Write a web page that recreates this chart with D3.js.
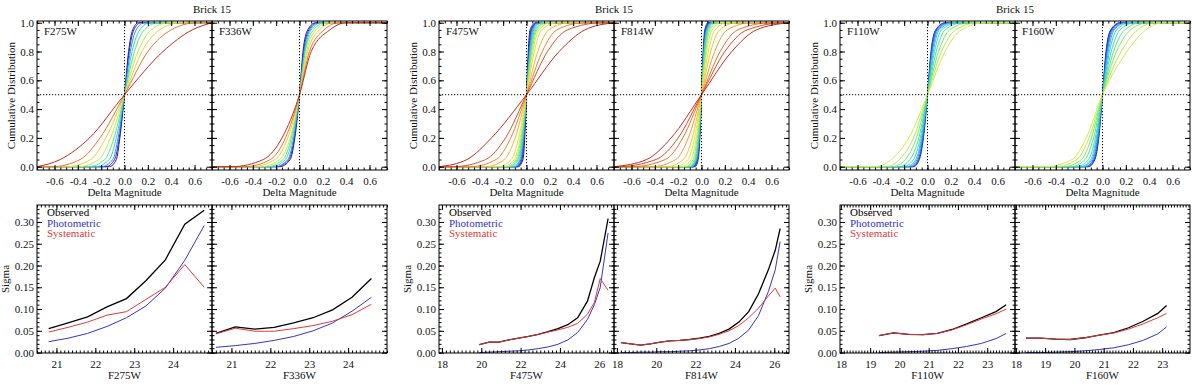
<!DOCTYPE html>
<html>
<head>
<meta charset="utf-8">
<script src="https://cdn.jsdelivr.net/npm/d3@7/dist/d3.min.js"></script>
<style>
  html, body { margin: 0; background: #fff; }
  svg text { font-family: 'Liberation Serif', 'DejaVu Serif', serif; font-size: 11px; }
</style>
</head>
<body>
<script>
// cumulative distributions: delta magnitude where each curve reaches the cdf levels
// (one row per magnitude bin, brightest first)
const cdfLevels = [0, 0.05, 0.2, 0.5, 0.8, 0.95, 1]

const cdfF275W = [
  [-0.13, -0.07, -0.04, 0, 0.035, 0.07, 0.12],
  [-0.16, -0.085, -0.045, 0, 0.04, 0.08, 0.14],
  [-0.20, -0.10, -0.055, 0, 0.05, 0.10, 0.17],
  [-0.25, -0.13, -0.07, 0, 0.065, 0.13, 0.22],
  [-0.31, -0.17, -0.09, 0, 0.085, 0.17, 0.29],
  [-0.40, -0.22, -0.12, 0, 0.115, 0.23, 0.38],
  [-0.50, -0.29, -0.16, 0, 0.15, 0.30, 0.48],
  [-0.62, -0.38, -0.21, 0, 0.20, 0.40, 0.62],
  [-0.75, -0.55, -0.30, 0, 0.33, 0.58, 0.75]
]
const cdfF336W = [
  [-0.17, -0.08, -0.04, 0, 0.03, 0.07, 0.14],
  [-0.19, -0.09, -0.045, 0, 0.035, 0.08, 0.15],
  [-0.21, -0.10, -0.05, 0, 0.04, 0.09, 0.17],
  [-0.24, -0.12, -0.06, 0, 0.045, 0.10, 0.19],
  [-0.28, -0.14, -0.07, 0, 0.05, 0.12, 0.22],
  [-0.33, -0.17, -0.08, 0, 0.06, 0.14, 0.25],
  [-0.40, -0.21, -0.10, 0, 0.07, 0.17, 0.29],
  [-0.47, -0.25, -0.12, 0, 0.085, 0.21, 0.34],
  [-0.58, -0.31, -0.15, 0, 0.10, 0.26, 0.40]
]
const cdfF475W = [
  [-0.07, -0.03, -0.015, 0, 0.015, 0.03, 0.08],
  [-0.08, -0.04, -0.02, 0, 0.02, 0.04, 0.09],
  [-0.08, -0.04, -0.02, 0, 0.02, 0.04, 0.09],
  [-0.09, -0.048, -0.024, 0, 0.024, 0.048, 0.10],
  [-0.10, -0.054, -0.028, 0, 0.028, 0.055, 0.11],
  [-0.11, -0.06, -0.031, 0, 0.031, 0.062, 0.12],
  [-0.13, -0.07, -0.035, 0, 0.035, 0.07, 0.14],
  [-0.15, -0.08, -0.04, 0, 0.04, 0.08, 0.16],
  [-0.17, -0.09, -0.046, 0, 0.046, 0.09, 0.18],
  [-0.20, -0.105, -0.054, 0, 0.054, 0.105, 0.21],
  [-0.25, -0.13, -0.067, 0, 0.067, 0.13, 0.26],
  [-0.35, -0.19, -0.097, 0, 0.097, 0.19, 0.37],
  [-0.48, -0.26, -0.135, 0, 0.135, 0.26, 0.50],
  [-0.63, -0.35, -0.18, 0, 0.18, 0.35, 0.65],
  [-0.75, -0.51, -0.30, 0, 0.28, 0.50, 0.75]
]
const cdfF814W = [
  [-0.075, -0.038, -0.019, 0, 0.019, 0.038, 0.075],
  [-0.065, -0.033, -0.017, 0, 0.017, 0.033, 0.065],
  [-0.055, -0.028, -0.014, 0, 0.014, 0.028, 0.055],
  [-0.065, -0.033, -0.017, 0, 0.017, 0.033, 0.065],
  [-0.078, -0.04, -0.02, 0, 0.02, 0.04, 0.078],
  [-0.087, -0.044, -0.023, 0, 0.023, 0.044, 0.087],
  [-0.09, -0.046, -0.024, 0, 0.024, 0.046, 0.09],
  [-0.096, -0.05, -0.025, 0, 0.025, 0.05, 0.096],
  [-0.105, -0.054, -0.028, 0, 0.028, 0.054, 0.105],
  [-0.12, -0.061, -0.031, 0, 0.031, 0.061, 0.12],
  [-0.14, -0.072, -0.037, 0, 0.037, 0.072, 0.14],
  [-0.17, -0.089, -0.045, 0, 0.045, 0.089, 0.17],
  [-0.22, -0.115, -0.059, 0, 0.059, 0.115, 0.22],
  [-0.30, -0.155, -0.079, 0, 0.079, 0.155, 0.30],
  [-0.43, -0.22, -0.113, 0, 0.113, 0.22, 0.43],
  [-0.60, -0.31, -0.16, 0, 0.16, 0.31, 0.60],
  [-0.72, -0.39, -0.20, 0, 0.20, 0.39, 0.72],
  [-0.75, -0.47, -0.26, 0, 0.26, 0.47, 0.75]
]
const cdfF110W = [
  [-0.12, -0.07, -0.035, 0, 0.03, 0.07, 0.15],
  [-0.13, -0.075, -0.038, 0, 0.033, 0.075, 0.16],
  [-0.14, -0.08, -0.042, 0, 0.037, 0.08, 0.18],
  [-0.16, -0.09, -0.047, 0, 0.042, 0.09, 0.20],
  [-0.18, -0.10, -0.053, 0, 0.05, 0.10, 0.23],
  [-0.21, -0.12, -0.062, 0, 0.06, 0.12, 0.26],
  [-0.25, -0.15, -0.075, 0, 0.075, 0.15, 0.30],
  [-0.30, -0.19, -0.095, 0, 0.095, 0.19, 0.36],
  [-0.36, -0.24, -0.12, 0, 0.12, 0.24, 0.43],
  [-0.45, -0.31, -0.16, 0, 0.15, 0.29, 0.50]
]
const cdfF160W = [
  [-0.12, -0.065, -0.032, 0, 0.03, 0.07, 0.15],
  [-0.13, -0.07, -0.035, 0, 0.033, 0.075, 0.16],
  [-0.14, -0.075, -0.038, 0, 0.037, 0.082, 0.17],
  [-0.15, -0.08, -0.042, 0, 0.042, 0.09, 0.19],
  [-0.17, -0.09, -0.047, 0, 0.05, 0.10, 0.21],
  [-0.19, -0.10, -0.053, 0, 0.06, 0.12, 0.24],
  [-0.22, -0.12, -0.062, 0, 0.075, 0.15, 0.28],
  [-0.27, -0.15, -0.077, 0, 0.095, 0.19, 0.33],
  [-0.33, -0.18, -0.095, 0, 0.12, 0.24, 0.39],
  [-0.40, -0.22, -0.115, 0, 0.16, 0.30, 0.45],
  [-0.49, -0.26, -0.14, 0, 0.21, 0.37, 0.52]
]

// sigma against magnitude: observed, photometric, systematic
const magF275W = [20.8, 21.3, 21.8, 22.3, 22.8, 23.3, 23.8, 24.3, 24.8]
const obsF275W = [0.055, 0.068, 0.082, 0.105, 0.124, 0.165, 0.213, 0.295, 0.327]
const photF275W = [0.025, 0.033, 0.044, 0.060, 0.080, 0.107, 0.148, 0.212, 0.292]
const systF275W = [0.047, 0.058, 0.070, 0.086, 0.094, 0.122, 0.150, 0.202, 0.150]

const magF336W = [20.6, 21.1, 21.6, 22.1, 22.6, 23.1, 23.6, 24.1, 24.6]
const obsF336W = [0.044, 0.059, 0.054, 0.058, 0.068, 0.080, 0.098, 0.127, 0.170]
const photF336W = [0.012, 0.016, 0.021, 0.028, 0.037, 0.050, 0.068, 0.095, 0.127]
const systF336W = [0.043, 0.056, 0.049, 0.049, 0.055, 0.062, 0.072, 0.087, 0.111]

const magF475W = [19.9, 20.4, 20.9, 21.4, 21.9, 22.4, 22.9, 23.4, 23.9, 24.4, 24.9, 25.4, 25.75, 26.05, 26.45]
const obsF475W = [0.018, 0.024, 0.024, 0.029, 0.033, 0.037, 0.042, 0.048, 0.055, 0.064, 0.080, 0.118, 0.172, 0.21, 0.308]
const photF475W = [0.000, 0.001, 0.002, 0.003, 0.004, 0.006, 0.009, 0.013, 0.019, 0.029, 0.046, 0.076, 0.11, 0.15, 0.275]
const systF475W = [0.018, 0.024, 0.024, 0.029, 0.033, 0.037, 0.042, 0.047, 0.052, 0.058, 0.067, 0.088, 0.115, 0.170, 0.143]

const magF814W = [18.2, 18.7, 19.2, 19.7, 20.2, 20.7, 21.2, 21.7, 22.2, 22.7, 23.2, 23.7, 24.2, 24.7, 25.2, 25.7, 26.05, 26.3]
const obsF814W = [0.023, 0.020, 0.017, 0.020, 0.024, 0.027, 0.028, 0.030, 0.033, 0.037, 0.044, 0.054, 0.070, 0.094, 0.135, 0.190, 0.235, 0.285]
const photF814W = [0.000, 0.000, 0.001, 0.001, 0.002, 0.002, 0.003, 0.004, 0.006, 0.009, 0.014, 0.021, 0.033, 0.052, 0.085, 0.140, 0.190, 0.255]
const systF814W = [0.023, 0.020, 0.017, 0.020, 0.024, 0.027, 0.028, 0.030, 0.032, 0.036, 0.042, 0.050, 0.062, 0.080, 0.102, 0.130, 0.148, 0.128]

const magF110W = [19.3, 19.8, 20.3, 20.8, 21.3, 21.8, 22.3, 22.8, 23.3, 23.65]
const obsF110W = [0.039, 0.045, 0.042, 0.041, 0.044, 0.053, 0.066, 0.080, 0.094, 0.110]
const photF110W = [0.000, 0.001, 0.002, 0.003, 0.005, 0.009, 0.014, 0.021, 0.032, 0.044]
const systF110W = [0.039, 0.045, 0.042, 0.041, 0.044, 0.052, 0.064, 0.077, 0.089, 0.100]

const magF160W = [18.35, 18.85, 19.35, 19.85, 20.35, 20.85, 21.35, 21.85, 22.35, 22.85, 23.15]
const obsF160W = [0.033, 0.033, 0.031, 0.030, 0.034, 0.040, 0.046, 0.057, 0.072, 0.090, 0.108]
const photF160W = [0.000, 0.000, 0.001, 0.002, 0.004, 0.007, 0.011, 0.018, 0.028, 0.043, 0.059]
const systF160W = [0.033, 0.033, 0.031, 0.030, 0.034, 0.040, 0.045, 0.054, 0.066, 0.080, 0.090]

// axes
const deltaRange = [-0.75, 0.75]
const deltaTicks = [-0.6, -0.4, -0.2, 0, 0.2, 0.4, 0.6]
const cdfRange = [-0.023, 1.012]
const cdfTicks = [0, 0.2, 0.4, 0.6, 0.8, 1]
const sigmaRange = [-0.001, 0.339]
const sigmaTicks = [0, 0.05, 0.1, 0.15, 0.2, 0.25, 0.3]
const magRangeUV = [20.5, 25]
const magTicksUV = [21, 22, 23, 24]
const magRangeOpt = [17.85, 26.75]
const magTicksOpt = [18, 20, 22, 24, 26]
const magRangeIR = [17.97, 23.95]
const magTicksIR = [18, 19, 20, 21, 22, 23]
const legendNames = ['Observed', 'Photometric', 'Systematic']
const brickTitle = 'Brick 15'

const width = 1200
const height = 386
const panelW = 175
const groupLeft = [37, 439, 840]
const cdfBox = [21, 170]
const sigBox = [205, 353]
const rainbow = d3.interpolateRgbBasis([
  '#3a0c80', '#1c1cb0', '#1f55ee', '#2fa0f2', '#33d2e0', '#3fe0a0',
  '#7aea55', '#d2f048', '#f6dc40', '#f4a035', '#e05a28', '#c42a1c'
])
const seriesColor = ['#000000', '#3434c8', '#e0393a']

const groups = [
  {
    bands: ['F275W', 'F336W'], cdf: [cdfF275W, cdfF336W], mag: [magF275W, magF336W],
    sigma: [[obsF275W, photF275W, systF275W], [obsF336W, photF336W, systF336W]],
    magRange: magRangeUV, magTicks: magTicksUV, magMinor: 0.1, hue: [0, 1]
  },
  {
    bands: ['F475W', 'F814W'], cdf: [cdfF475W, cdfF814W], mag: [magF475W, magF814W],
    sigma: [[obsF475W, photF475W, systF475W], [obsF814W, photF814W, systF814W]],
    magRange: magRangeOpt, magTicks: magTicksOpt, magMinor: 0.2, hue: [0, 1]
  },
  {
    bands: ['F110W', 'F160W'], cdf: [cdfF110W, cdfF160W], mag: [magF110W, magF160W],
    sigma: [[obsF110W, photF110W, systF110W], [obsF160W, photF160W, systF160W]],
    magRange: magRangeIR, magTicks: magTicksIR, magMinor: 0.1, hue: [0.08, 0.66]
  }
]

const svg = d3.select('body')
  .append('svg')
  .attr('width', width)
  .attr('height', height)
  .style('display', 'block')

function steps(lo, hi, step) {
  const k0 = Math.ceil(lo / step - 1e-6)
  const k1 = Math.floor(hi / step + 1e-6)
  return d3.range(k0, k1 + 1).map(k => +(k * step).toFixed(6))
}

function styleAxis(g) {
  g.select('.domain').remove()
  g.attr('font-family', null).attr('font-size', null)
  g.selectAll('line').attr('stroke', '#000')
  g.selectAll('text').attr('fill', '#111')
}

// IDL style box: inward ticks on all four sides, labels on bottom and (optionally) left
function frame(g, x, y, o) {
  const w = x.range()[1]
  const h = y.range()[0]
  const xMinor = steps(x.domain()[0], x.domain()[1], o.xMinor)
  const yMinor = steps(y.domain()[0], y.domain()[1], o.yMinor)
  const bottom = g.append('g').attr('transform', `translate(0,${h})`)
  bottom.append('g')
    .call(d3.axisBottom(x).tickValues(xMinor).tickSize(-2.5).tickFormat(''))
    .call(styleAxis)
  bottom.append('g')
    .call(d3.axisBottom(x).tickValues(o.xTicks).tickSize(-5).tickPadding(7).tickFormat(o.xFmt))
    .call(styleAxis)
  g.append('g')
    .call(d3.axisTop(x).tickValues(xMinor).tickSize(-2.5).tickFormat(''))
    .call(styleAxis)
  g.append('g')
    .call(d3.axisTop(x).tickValues(o.xTicks).tickSize(-5).tickFormat(''))
    .call(styleAxis)
  g.append('g')
    .call(d3.axisLeft(y).tickValues(yMinor).tickSize(-2.5).tickFormat(''))
    .call(styleAxis)
  g.append('g')
    .call(d3.axisLeft(y).tickValues(o.yTicks).tickSize(-5).tickPadding(3).tickFormat(o.showY ? o.yFmt : ''))
    .call(styleAxis)
  const right = g.append('g').attr('transform', `translate(${w},0)`)
  right.append('g')
    .call(d3.axisRight(y).tickValues(yMinor).tickSize(-2.5).tickFormat(''))
    .call(styleAxis)
  right.append('g')
    .call(d3.axisRight(y).tickValues(o.yTicks).tickSize(-5).tickFormat(''))
    .call(styleAxis)
  g.append('rect')
    .attr('width', w)
    .attr('height', h)
    .attr('fill', 'none')
    .attr('stroke', '#000')
}

function cdfPanel(g, rows, band, hue, showY, id) {
  const h = cdfBox[1] - cdfBox[0]
  const x = d3.scaleLinear().domain(deltaRange).range([0, panelW])
  const y = d3.scaleLinear().domain(cdfRange).range([h, 0])

  g.append('clipPath').attr('id', id)
    .append('rect').attr('width', panelW).attr('height', h)
  const body = g.append('g').attr('clip-path', `url(#${id})`)

  const color = i => rainbow(hue[0] + (hue[1] - hue[0]) * i / (rows.length - 1))
  const line = d3.line()
    .x(d => x(d[0]))
    .y(d => y(d[1]))
    .curve(d3.curveMonotoneX)

  rows.forEach((q, i) => {
    const pts = q.map((v, k) => [v, cdfLevels[k]])
    if (pts[0][0] > deltaRange[0]) pts.unshift([deltaRange[0], cdfLevels[0]])
    if (pts[pts.length - 1][0] < deltaRange[1]) pts.push([deltaRange[1], cdfLevels[cdfLevels.length - 1]])
    body.append('path')
      .datum(pts)
      .attr('d', line)
      .attr('fill', 'none')
      .attr('stroke', color(i))
      .attr('stroke-width', 1)
  })

  // dotted references at zero offset and median
  body.append('line')
    .attr('x1', x(0)).attr('x2', x(0))
    .attr('y1', 0).attr('y2', h)
    .attr('stroke', '#000').attr('stroke-dasharray', '1.2,1.8')
  body.append('line')
    .attr('x1', 0).attr('x2', panelW)
    .attr('y1', y(0.5)).attr('y2', y(0.5))
    .attr('stroke', '#000').attr('stroke-dasharray', '1.2,1.8')

  frame(g, x, y, {
    xTicks: deltaTicks, xMinor: 0.05, xFmt: d => d.toFixed(1),
    yTicks: cdfTicks, yMinor: 0.05, yFmt: d => d.toFixed(1), showY
  })

  g.append('text')
    .attr('x', 7)
    .attr('y', 13.5)
    .attr('fill', '#111')
    .text(band)
  g.append('text')
    .attr('x', panelW / 2)
    .attr('y', h + 25.5)
    .attr('text-anchor', 'middle')
    .attr('fill', '#111')
    .text('Delta Magnitude')
}

function sigmaPanel(g, grp, p) {
  const h = sigBox[1] - sigBox[0]
  const x = d3.scaleLinear().domain(grp.magRange).range([0, panelW])
  const y = d3.scaleLinear().domain(sigmaRange).range([h, 0])
  const mags = grp.mag[p]
  const line = d3.line()
    .x(d => x(d[0]))
    .y(d => y(d[1]))

  grp.sigma[p].forEach((vals, s) => {
    g.append('path')
      .datum(mags.map((m, k) => [m, vals[k]]))
      .attr('d', line)
      .attr('fill', 'none')
      .attr('stroke', seriesColor[s])
      .attr('stroke-width', s === 0 ? 1.3 : 1)
  })

  frame(g, x, y, {
    xTicks: grp.magTicks, xMinor: grp.magMinor, xFmt: d3.format('d'),
    yTicks: sigmaTicks, yMinor: 0.01, yFmt: d => d.toFixed(2), showY: p === 0
  })

  if (p === 0) {
    legendNames.forEach((name, s) => {
      g.append('text')
        .attr('x', 10)
        .attr('y', 11 + s * 10.7)
        .attr('fill', seriesColor[s])
        .text(name)
    })
  }

  g.append('text')
    .attr('x', panelW / 2)
    .attr('y', h + 25.5)
    .attr('text-anchor', 'middle')
    .attr('fill', '#111')
    .text(grp.bands[p])
}

groups.forEach((grp, gi) => {
  const left = groupLeft[gi]

  svg.append('text')
    .attr('x', left + panelW)
    .attr('y', 13)
    .attr('text-anchor', 'middle')
    .attr('fill', '#111')
    .text(brickTitle)

  svg.append('text')
    .attr('transform', `translate(${left - 22},${(cdfBox[0] + cdfBox[1]) / 2}) rotate(-90)`)
    .attr('text-anchor', 'middle')
    .attr('fill', '#111')
    .text('Cumulative Distribution')

  svg.append('text')
    .attr('transform', `translate(${left - 28},${(sigBox[0] + sigBox[1]) / 2}) rotate(-90)`)
    .attr('text-anchor', 'middle')
    .attr('fill', '#111')
    .text('Sigma')

  grp.bands.forEach((band, p) => {
    const px = left + p * panelW
    const top = svg.append('g').attr('transform', `translate(${px},${cdfBox[0]})`)
    cdfPanel(top, grp.cdf[p], band, grp.hue, p === 0, `clip-${band}`)
    const bot = svg.append('g').attr('transform', `translate(${px},${sigBox[0]})`)
    sigmaPanel(bot, grp, p)
  })
})
</script>
</body>
</html>
